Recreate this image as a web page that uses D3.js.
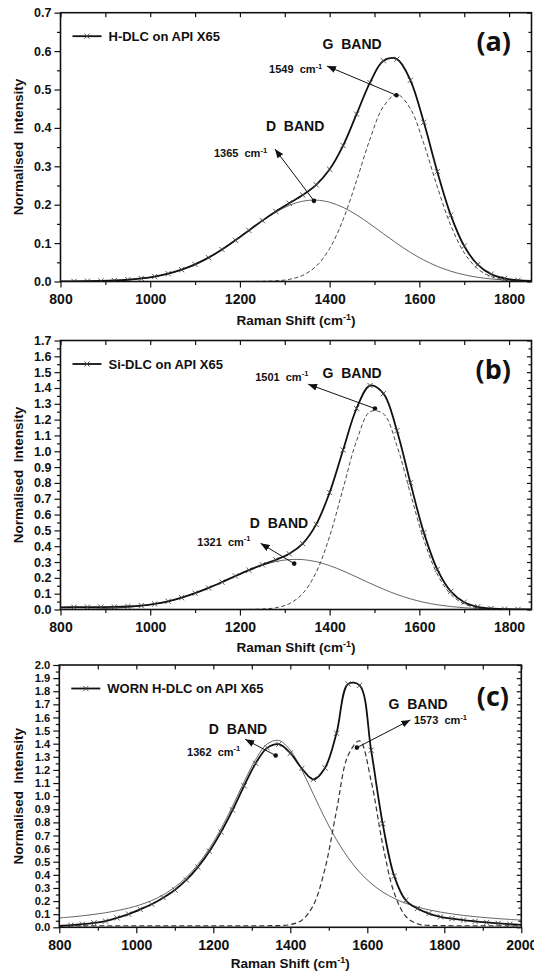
<!DOCTYPE html>
<html>
<head>
<meta charset="utf-8">
<script src="https://cdn.jsdelivr.net/npm/d3@7"></script>
<style>
  body { margin: 0; background: #fff; }
  text { font-family: "Liberation Sans", Arial, sans-serif; font-weight: bold; fill: #111; }
</style>
</head>
<body>
<div id="chart"></div>
<script>
// Raman shift grids (cm-1)
const shiftAB = [800, 830, 860, 890, 920, 950, 980, 1010, 1040, 1070, 1100, 1130, 1160, 1190,
  1220, 1250, 1280, 1310, 1340, 1370, 1400, 1430, 1460, 1490, 1520, 1550, 1580, 1610, 1640,
  1670, 1700, 1730, 1760, 1790, 1820, 1850];
const shiftC = [800, 830, 860, 890, 920, 950, 980, 1010, 1040, 1070, 1100, 1130, 1160, 1190,
  1220, 1250, 1280, 1310, 1340, 1370, 1400, 1430, 1460, 1490, 1520, 1550, 1580, 1610, 1640,
  1670, 1700, 1730, 1760, 1790, 1820, 1850, 1880, 1910, 1940, 1970, 2000];

// (a) H-DLC
const totalA = [0.0002, 0.0004, 0.0007, 0.0014, 0.0026, 0.0046, 0.0079, 0.0129, 0.0203, 0.0307,
  0.0445, 0.0621, 0.0833, 0.1073, 0.1330, 0.1585, 0.1823, 0.2038, 0.2252, 0.2517, 0.2923,
  0.3541, 0.4358, 0.5180, 0.5750, 0.5790, 0.5240, 0.4145, 0.2861, 0.1730, 0.0923, 0.0440,
  0.0192, 0.0079, 0.0033, 0.0014];
const dBandA = [0.0002, 0.0004, 0.0007, 0.0014, 0.0026, 0.0046, 0.0079, 0.0129, 0.0203, 0.0307,
  0.0445, 0.0621, 0.0833, 0.1073, 0.1329, 0.1580, 0.1806, 0.1982, 0.2091, 0.2119, 0.2063,
  0.1930, 0.1735, 0.1498, 0.1243, 0.0991, 0.0759, 0.0558, 0.0395, 0.0268, 0.0175, 0.0110,
  0.0066, 0.0038, 0.0021, 0.0011];
const gBandA = [0, 0, 0, 0, 0, 0, 0, 0, 0, 0, 0, 0, 0, 0, 0.0001, 0.0005, 0.0017, 0.0056, 0.0161,
  0.0398, 0.0860, 0.1611, 0.2623, 0.3711, 0.4560, 0.4870, 0.4500, 0.3587, 0.2466, 0.1462,
  0.0748, 0.0330, 0.0126, 0.0041, 0.0012, 0.0003];

// (b) Si-DLC
const totalB = [0.0140, 0.0145, 0.0150, 0.0155, 0.0165, 0.0190, 0.0245, 0.0350, 0.0521, 0.0747,
  0.1029, 0.1362, 0.1731, 0.2115, 0.2487, 0.2827, 0.3142, 0.3520, 0.4164, 0.5377, 0.7397,
  1.0083, 1.2703, 1.4155, 1.3647, 1.1301, 0.8008, 0.4857, 0.2533, 0.1146, 0.0460, 0.0172,
  0.0063, 0.0024, 0.0010, 0.0004];
const dBandB = [0.0007, 0.0014, 0.0026, 0.0047, 0.0083, 0.0139, 0.0225, 0.0350, 0.0521, 0.0747,
  0.1029, 0.1362, 0.1731, 0.2114, 0.2481, 0.2798, 0.3031, 0.3154, 0.3153, 0.3021, 0.2773,
  0.2438, 0.2054, 0.1658, 0.1282, 0.0950, 0.0674, 0.0458, 0.0299, 0.0186, 0.0111, 0.0064,
  0.0035, 0.0018, 0.0009, 0.0004];
const gBandB = [0, 0, 0, 0, 0, 0, 0, 0, 0, 0, 0, 0, 0, 0.0001, 0.0006, 0.0029, 0.0111, 0.0366,
  0.1011, 0.2356, 0.4624, 0.7645, 1.0649, 1.2497, 1.2365, 1.0351, 0.7334, 0.4399, 0.2234,
  0.0960, 0.0349, 0.0108, 0.0028, 0.0006, 0.0001, 0];

// (c) worn H-DLC
const totalC = [0.010, 0.016, 0.024, 0.034, 0.047, 0.072, 0.101, 0.137, 0.176, 0.226, 0.285,
  0.361, 0.459, 0.580, 0.726, 0.894, 1.079, 1.250, 1.368, 1.396, 1.328, 1.211, 1.128, 1.215,
  1.480, 1.855, 1.845, 1.350, 0.790, 0.390, 0.205, 0.143, 0.105, 0.080, 0.066, 0.055, 0.045,
  0.037, 0.030, 0.024, 0.019];
const dBandC = [0.0710, 0.0787, 0.0877, 0.0983, 0.1110, 0.1266, 0.1463, 0.1715, 0.2043, 0.2478,
  0.3053, 0.3809, 0.4785, 0.6016, 0.7512, 0.9242, 1.1087, 1.2796, 1.3976, 1.4250, 1.3499,
  1.1987, 1.0142, 0.8311, 0.6676, 0.5305, 0.4206, 0.3347, 0.2693, 0.2201, 0.1829, 0.1548,
  0.1331, 0.1160, 0.1021, 0.0907, 0.0812, 0.0731, 0.0661, 0.0601, 0.0548];
const gBandC = [0.012, 0.012, 0.012, 0.012, 0.012, 0.012, 0.012, 0.012, 0.012, 0.012, 0.012,
  0.012, 0.012, 0.012, 0.012, 0.012, 0.012, 0.012, 0.012, 0.0132, 0.0202, 0.0539, 0.1693,
  0.4456, 0.8881, 1.3100, 1.4212, 1.1156, 0.6313, 0.2610, 0.0837, 0.0268, 0.0142, 0.0123,
  0.012, 0.012, 0.012, 0.012, 0.012, 0.012, 0.012];

// Fitted peak positions [shift, intensity]
const peaksA = { d: [1365, 0.21], g: [1549, 0.485] };
const peaksB = { d: [1321, 0.29], g: [1501, 1.27] };
const peaksC = { d: [1362, 1.31], g: [1573, 1.37] };

const W = 534, H = 974;
const FONT = '"Liberation Sans", Arial, sans-serif';

const svg = d3.select("#chart").append("svg")
  .attr("width", W).attr("height", H)
  .attr("viewBox", [0, 0, W, H]);
svg.append("rect").attr("width", W).attr("height", H).attr("fill", "#fff");

const defs = svg.append("defs");
defs.append("marker")
  .attr("id", "arrow")
  .attr("viewBox", "0 0 9 7")
  .attr("refX", 9).attr("refY", 3.5)
  .attr("markerWidth", 9).attr("markerHeight", 7)
  .attr("markerUnits", "userSpaceOnUse")
  .attr("orient", "auto")
  .append("path").attr("d", "M0,0L9,3.5L0,7Z").attr("fill", "#111");

// Panel layout and annotation anchors (annotation anchors are in data units)
const panels = [
  {
    id: "a", tag: "(a)", tagX: 511, legend: "H-DLC on API X65",
    shift: shiftAB, total: totalA, dBand: dBandA, gBand: gBandA, peaks: peaksA,
    xMax: 1850, yMax: 0.7, left: 60.5, right: 531.5, top: 12.7, bottom: 281.5,
    titleDy: 43, gDash: "4,2.5", gWidth: 0.9, yFont: 12.5, tagDy: 38,
    gLabel: [1450, 0.605], gText: [1265, 0.542, "1549"], gHead: [1394, 0.561],
    dLabel: [1323, 0.392], dText: [1142, 0.323, "1365"], dHead: [1278, 0.345]
  },
  {
    id: "b", tag: "(b)", tagX: 511, legend: "Si-DLC on API X65",
    shift: shiftAB, total: totalB, dBand: dBandB, gBand: gBandB, peaks: peaksB,
    xMax: 1850, yMax: 1.7, left: 60.5, right: 531.5, top: 340.5, bottom: 609.5,
    titleDy: 42, gDash: "4,2.5", gWidth: 0.9, yFont: 12.5, tagDy: 38,
    gLabel: [1450, 1.464], gText: [1234, 1.445, "1501"], gHead: [1352, 1.424],
    dLabel: [1287, 0.513], dText: [1105, 0.403, "1321"], dHead: [1246, 0.418]
  },
  {
    id: "c", tag: "(c)", tagX: 509, legend: "WORN H-DLC on API X65",
    shift: shiftC, total: totalC, dBand: dBandC, gBand: gBandC, peaks: peaksC,
    xMax: 2000, yMax: 2.0, left: 59.3, right: 521.3, top: 665, bottom: 927.3,
    titleDy: 41, gDash: "5,3", gWidth: 1.2, yFont: 11.2, tagDy: 41,
    gLabel: [1732, 1.664], gText: [1721, 1.550, "1573"], gHead: [1712, 1.581],
    dLabel: [1264, 1.472], dText: [1132, 1.308, "1362"], dHead: [1283, 1.433]
  }
];

function styleAxis(sel, size) {
  sel.select(".domain").remove();
  sel.selectAll("line").attr("stroke", "#111").attr("stroke-width", 1.2);
  sel.selectAll("text")
    .attr("font-size", size || 14)
    .attr("font-family", FONT)
    .attr("font-weight", "bold")
    .attr("fill", "#111");
  return sel;
}

function drawPanel(p) {
  const x = d3.scaleLinear().domain([800, p.xMax]).range([p.left, p.right]);
  const y = d3.scaleLinear().domain([0, p.yMax]).range([p.bottom, p.top]);
  const g = svg.append("g").attr("class", "panel-" + p.id);

  const xMajor = d3.range(800, p.xMax + 1, 200);
  const xMinor = d3.range(900, p.xMax, 200);
  const nY = Math.round(p.yMax * 10);
  const yMajor = d3.range(0, nY + 1).map((i) => i / 10);
  const yMinor = d3.range(0, nY).map((i) => i / 10 + 0.05);

  // Bottom and left: outward ticks with labels
  styleAxis(g.append("g").attr("transform", `translate(0,${p.bottom})`)
    .call(d3.axisBottom(x).tickValues(xMajor).tickSize(6).tickPadding(7).tickFormat(d3.format("d"))), 14);
  styleAxis(g.append("g").attr("transform", `translate(0,${p.bottom})`)
    .call(d3.axisBottom(x).tickValues(xMinor).tickSize(3.5).tickFormat("")));
  styleAxis(g.append("g").attr("transform", `translate(${p.left},0)`)
    .call(d3.axisLeft(y).tickValues(yMajor).tickSize(6).tickPadding(3).tickFormat(d3.format(".1f"))), p.yFont);
  styleAxis(g.append("g").attr("transform", `translate(${p.left},0)`)
    .call(d3.axisLeft(y).tickValues(yMinor).tickSize(3.5).tickFormat("")));

  // Top and right: inward ticks
  styleAxis(g.append("g").attr("transform", `translate(0,${p.top})`)
    .call(d3.axisTop(x).tickValues(xMajor.concat(xMinor)).tickSize(-4.5).tickFormat("")));
  styleAxis(g.append("g").attr("transform", `translate(${p.right},0)`)
    .call(d3.axisRight(y).tickValues(yMajor).tickSize(-4.5).tickFormat("")));
  styleAxis(g.append("g").attr("transform", `translate(${p.right},0)`)
    .call(d3.axisRight(y).tickValues(yMinor).tickSize(-3).tickFormat("")));

  // Clip for curves
  const clipId = "clip-" + p.id;
  defs.append("clipPath").attr("id", clipId)
    .append("rect")
    .attr("x", p.left).attr("y", p.top)
    .attr("width", p.right - p.left).attr("height", p.bottom - p.top);

  const line = d3.line()
    .x((d) => x(d[0]))
    .y((d) => y(d[1]))
    .curve(d3.curveCatmullRom.alpha(0.5));

  const plot = g.append("g").attr("clip-path", `url(#${clipId})`);
  const zip = (vals) => p.shift.map((s, i) => [s, vals[i]]);

  // D band (thin solid)
  plot.append("path").datum(zip(p.dBand))
    .attr("fill", "none").attr("stroke", "#555").attr("stroke-width", 0.9)
    .attr("d", line);

  // G band (dashed)
  plot.append("path").datum(zip(p.gBand))
    .attr("fill", "none").attr("stroke", "#333").attr("stroke-width", p.gWidth)
    .attr("stroke-dasharray", p.gDash)
    .attr("d", line);

  // Measured spectrum (thick line with x markers)
  const totalPts = zip(p.total);
  plot.append("path").datum(totalPts)
    .attr("fill", "none").attr("stroke", "#111").attr("stroke-width", 1.8)
    .attr("d", line);

  const cross = (cx, cy, r) =>
    `M${cx - r},${cy - r}L${cx + r},${cy + r}M${cx - r},${cy + r}L${cx + r},${cy - r}`;

  plot.selectAll(".mk")
    .data(totalPts.slice(1, -1))
    .join("path")
    .attr("class", "mk")
    .attr("d", (d) => cross(x(d[0]), y(d[1]), 2.6))
    .attr("stroke", "#444").attr("stroke-width", 0.9).attr("fill", "none");

  // Frame
  g.append("rect")
    .attr("x", p.left).attr("y", p.top)
    .attr("width", p.right - p.left).attr("height", p.bottom - p.top)
    .attr("fill", "none").attr("stroke", "#111").attr("stroke-width", 1.6);

  // Legend
  const ly = p.top + 23.5;
  const lx = p.left + 12;
  g.append("line")
    .attr("x1", lx).attr("x2", lx + 29).attr("y1", ly).attr("y2", ly)
    .attr("stroke", "#111").attr("stroke-width", 1.8);
  g.append("path").attr("d", cross(lx + 14.5, ly, 2.6))
    .attr("stroke", "#444").attr("stroke-width", 0.9);
  g.append("text")
    .attr("x", lx + 36).attr("y", ly + 4.5)
    .attr("font-size", 13)
    .text(p.legend);

  // Panel tag
  g.append("text")
    .attr("x", p.tagX).attr("y", p.top + p.tagDy)
    .attr("text-anchor", "end")
    .attr("font-size", 27)
    .style("font-family", '"Open Sans", sans-serif')
    .style("font-weight", 700)
    .text(p.tag);

  // Band labels
  const bandLabel = (pos, txt) =>
    g.append("text")
      .attr("x", x(pos[0])).attr("y", y(pos[1]))
      .attr("text-anchor", "middle")
      .attr("font-size", 14)
      .style("white-space", "pre")
      .text(txt);
  bandLabel(p.gLabel, "G  BAND");
  bandLabel(p.dLabel, "D  BAND");

  const peakText = (pos) => {
    const t = g.append("text")
      .attr("x", x(pos[0])).attr("y", y(pos[1]))
      .attr("font-size", 11)
      .style("white-space", "pre");
    t.append("tspan").text(pos[2] + "  cm");
    t.append("tspan").attr("font-size", 7.5).attr("dy", -4.5).text("-1");
  };
  peakText(p.gText);
  peakText(p.dText);

  // Arrows from fitted peak dots to labels
  const arrow = (from, to) => {
    g.append("line")
      .attr("x1", x(from[0])).attr("y1", y(from[1]))
      .attr("x2", x(to[0])).attr("y2", y(to[1]))
      .attr("stroke", "#111").attr("stroke-width", 1)
      .attr("marker-end", "url(#arrow)");
    g.append("circle")
      .attr("cx", x(from[0])).attr("cy", y(from[1]))
      .attr("r", 2.3).attr("fill", "#111");
  };
  arrow(p.peaks.g, p.gHead);
  arrow(p.peaks.d, p.dHead);

  // Axis titles
  const xt = g.append("text")
    .attr("x", (p.left + p.right) / 2).attr("y", p.bottom + p.titleDy)
    .attr("text-anchor", "middle")
    .attr("font-size", 13.5);
  xt.append("tspan").text("Raman Shift (cm");
  xt.append("tspan").attr("font-size", 9).attr("dy", -5).text("-1");
  xt.append("tspan").attr("dy", 5).text(")");

  g.append("text")
    .attr("transform", `translate(23,${(p.top + p.bottom) / 2}) rotate(-90)`)
    .attr("text-anchor", "middle")
    .attr("font-size", 13.5)
    .style("white-space", "pre")
    .text("Normalised  Intensity");
}

panels.forEach(drawPanel);
</script>
</body>
</html>
